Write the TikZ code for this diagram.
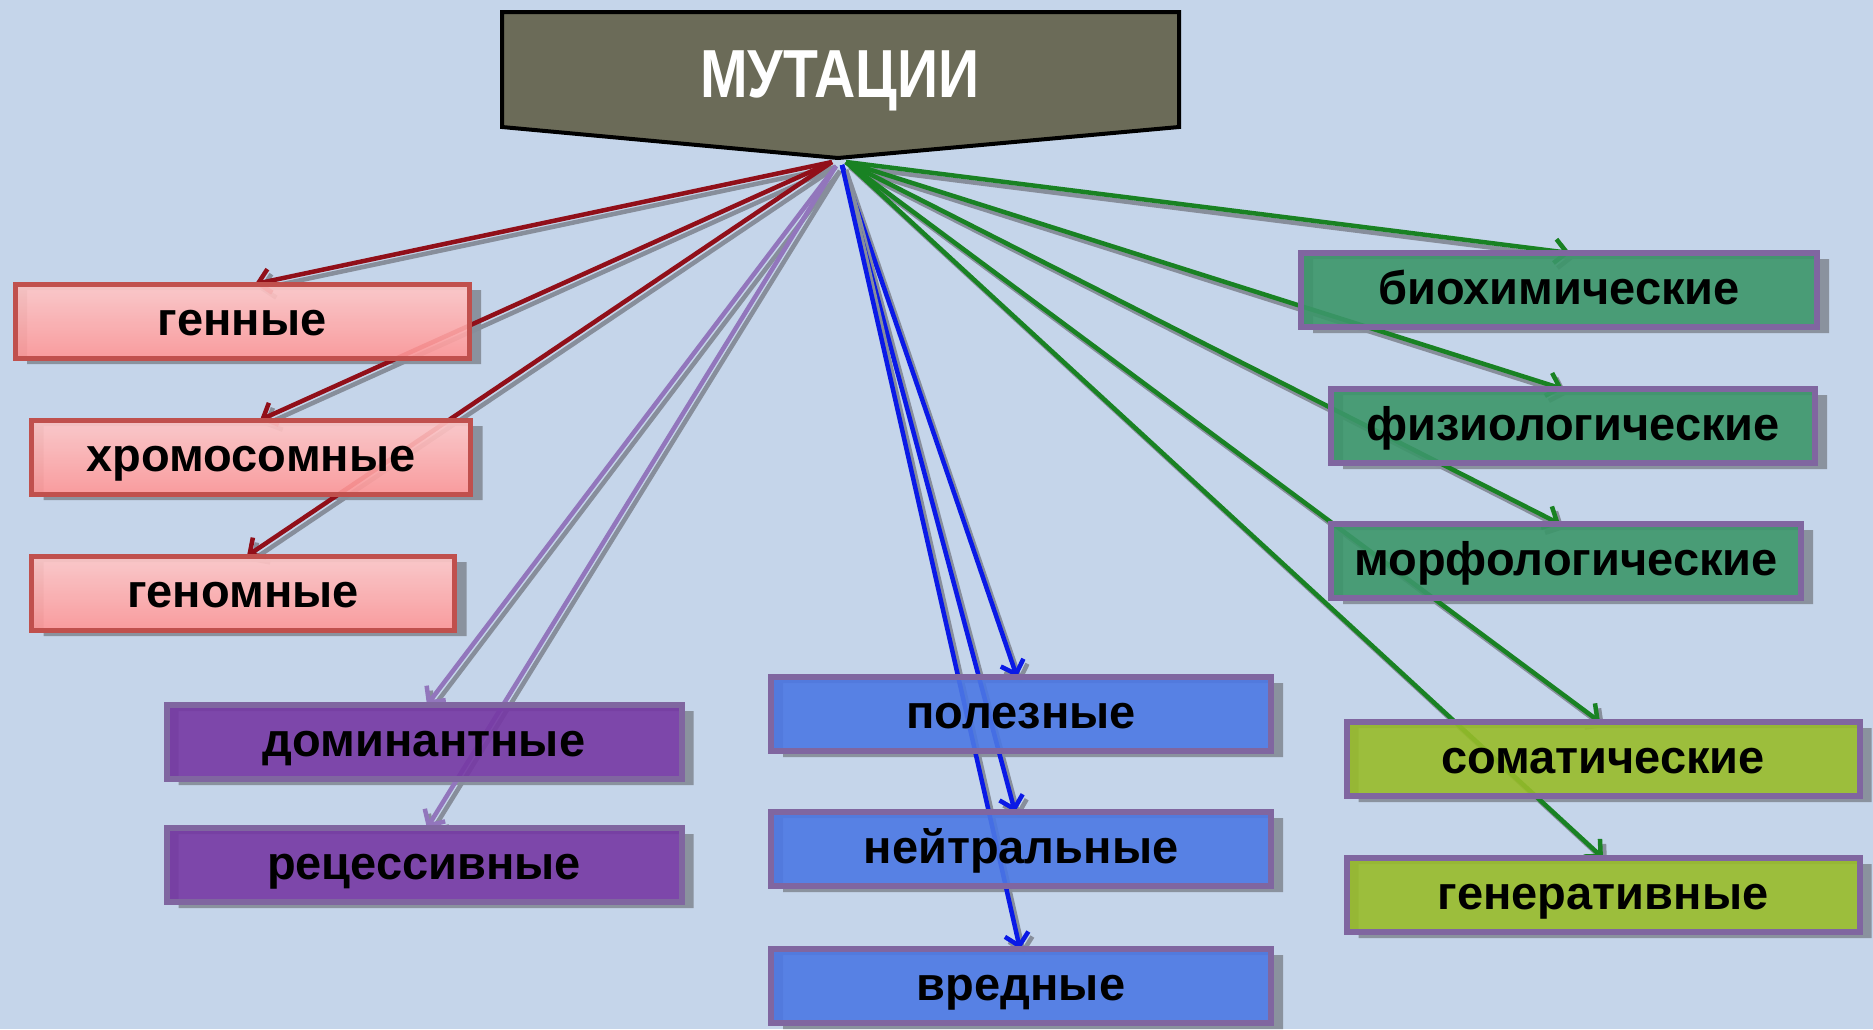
\documentclass[tikz,border=0pt]{standalone}
\usepackage{fontspec}
\usepackage{graphicx}
\setmainfont{Liberation Sans}
\usetikzlibrary{arrows.meta}

\newlength{\du}
\setlength{\du}{1pt}

\pgfdeclarelayer{bg}
\pgfsetlayers{bg,main}

\definecolor{bgcolor}{RGB}{197,213,234}
\definecolor{shadowgrey}{RGB}{138,146,158}
\definecolor{headfill}{RGB}{107,107,88}
\definecolor{pinkline}{RGB}{192,80,77}
\definecolor{pinktop}{RGB}{255,200,200}
\definecolor{pinkbot}{RGB}{255,150,150}
\definecolor{boxline}{RGB}{128,102,160}
\definecolor{violetfill}{RGB}{118,56,164}
\definecolor{bluefill}{RGB}{76,120,228}
\definecolor{greenfill}{RGB}{60,150,106}
\definecolor{limefill}{RGB}{152,188,42}
\definecolor{redarrow}{RGB}{145,15,25}
\definecolor{violetarrow}{RGB}{146,118,188}
\definecolor{bluearrow}{RGB}{10,25,230}
\definecolor{greenarrow}{RGB}{25,130,35}
\definecolor{arrowshadow}{RGB}{135,142,155}

% arrow with its grey shadow: colour, from, to
\newcommand{\mutarrow}[3]{%
  \begin{scope}[transform canvas={xshift=4\du,yshift=-5\du}]
    \draw[conn,arrowshadow] (#2) -- (#3);
  \end{scope}
  \draw[conn,#1] (#2) -- (#3);}

\begin{document}
\begin{tikzpicture}[x=\du,y=-\du,
  catbox/.style={draw=boxline,line width=6\du,minimum height=74\du,
    inner sep=0pt,outer sep=0pt,fill opacity=0.9,text opacity=1,
    text height=29pt,text depth=0pt,
    font=\bfseries\fontsize{47}{50}\selectfont,text=black},
  pinkbox/.style={catbox,draw=pinkline,line width=5\du,top color=pinktop,bottom color=pinkbot},
  violetbox/.style={catbox,fill=violetfill},
  bluebox/.style={catbox,fill=bluefill},
  greenbox/.style={catbox,fill=greenfill},
  limebox/.style={catbox,fill=limefill},
  conn/.style={line width=4.5\du,-{Straight Barb[length=12pt,width=24pt]}},
]
\useasboundingbox (0,0) rectangle (1873,1029);
\begin{pgfonlayer}{bg}
\fill[bgcolor] (0,0) rectangle (1873,1029);
\end{pgfonlayer}

% head
\coordinate (tip) at (838,158);
\draw[fill=headfill,line width=4\du,line join=miter] (502,12) -- (1179,12) -- (1179,127) -- (tip) -- (502,127) -- cycle;
\node[text=white,font=\bfseries\fontsize{68}{70}\selectfont] (mut) at (840,81) {\scalebox{0.84}[1]{МУТАЦИИ}};

\coordinate (srcR) at (832,162);
\coordinate (srcP) at (836,166);
\coordinate (srcB) at (842,165);
\coordinate (srcG) at (846,162);

% left column
\node[pinkbox,minimum width=454\du] (gen) at (242,321) {генные};
\node[pinkbox,minimum width=439\du] (chrom) at (251,457) {хромосомные};
\node[pinkbox,minimum width=423\du] (genom) at (243,593) {геномные};

\node[violetbox,minimum width=515\du] (dom) at (424,742) {доминантные};
\node[violetbox,minimum width=515\du] (rec) at (424,865) {рецессивные};

% middle column
\node[bluebox,minimum width=500\du] (pol) at (1021,714) {полезные};
\node[bluebox,minimum width=500\du] (neu) at (1021,849) {нейтральные};
\node[bluebox,minimum width=500\du] (vre) at (1021,986) {вредные};

% right column
\node[greenbox,minimum width=516\du] (bio) at (1559,290) {биохимические};
\node[greenbox,minimum width=484\du] (fiz) at (1573,426) {физиологические};
\node[greenbox,minimum width=470\du] (mor) at (1566,561) {морфологические};

\node[limebox,minimum width=513\du] (som) at (1603,759) {соматические};
\node[limebox,minimum width=513\du] (gnr) at (1603,895) {генеративные};

\begin{pgfonlayer}{bg}
\foreach \n in {gen,chrom,genom,dom,rec,pol,neu,vre,bio,fiz,mor,som,gnr}
  \fill[shadowgrey,even odd rule] ([shift={(12,6)}]\n.south west) rectangle ([shift={(12,6)}]\n.north east)
    (\n.south west) rectangle (\n.north east);

\mutarrow{redarrow}{srcR}{[xshift=13pt]gen.north}
\mutarrow{redarrow}{srcR}{[xshift=9pt]chrom.north}
\mutarrow{redarrow}{srcR}{[xshift=4pt]genom.north}

\mutarrow{violetarrow}{srcP}{[xshift=3pt]dom.north}
\mutarrow{violetarrow}{srcP}{[xshift=3pt]rec.north}

\mutarrow{bluearrow}{srcB}{[xshift=-4pt]pol.north}
\mutarrow{bluearrow}{srcB}{[xshift=-6pt]neu.north}
\mutarrow{bluearrow}{srcB}{[xshift=-1pt]vre.north}

\mutarrow{greenarrow}{srcG}{[xshift=11pt]bio.north}
\mutarrow{greenarrow}{srcG}{[xshift=-10pt]fiz.north}
\mutarrow{greenarrow}{srcG}{[xshift=-6pt]mor.north}
\mutarrow{greenarrow}{srcG}{[xshift=-3pt]som.north}
\mutarrow{greenarrow}{srcG}{gnr.north}
\end{pgfonlayer}
\end{tikzpicture}
\end{document}
